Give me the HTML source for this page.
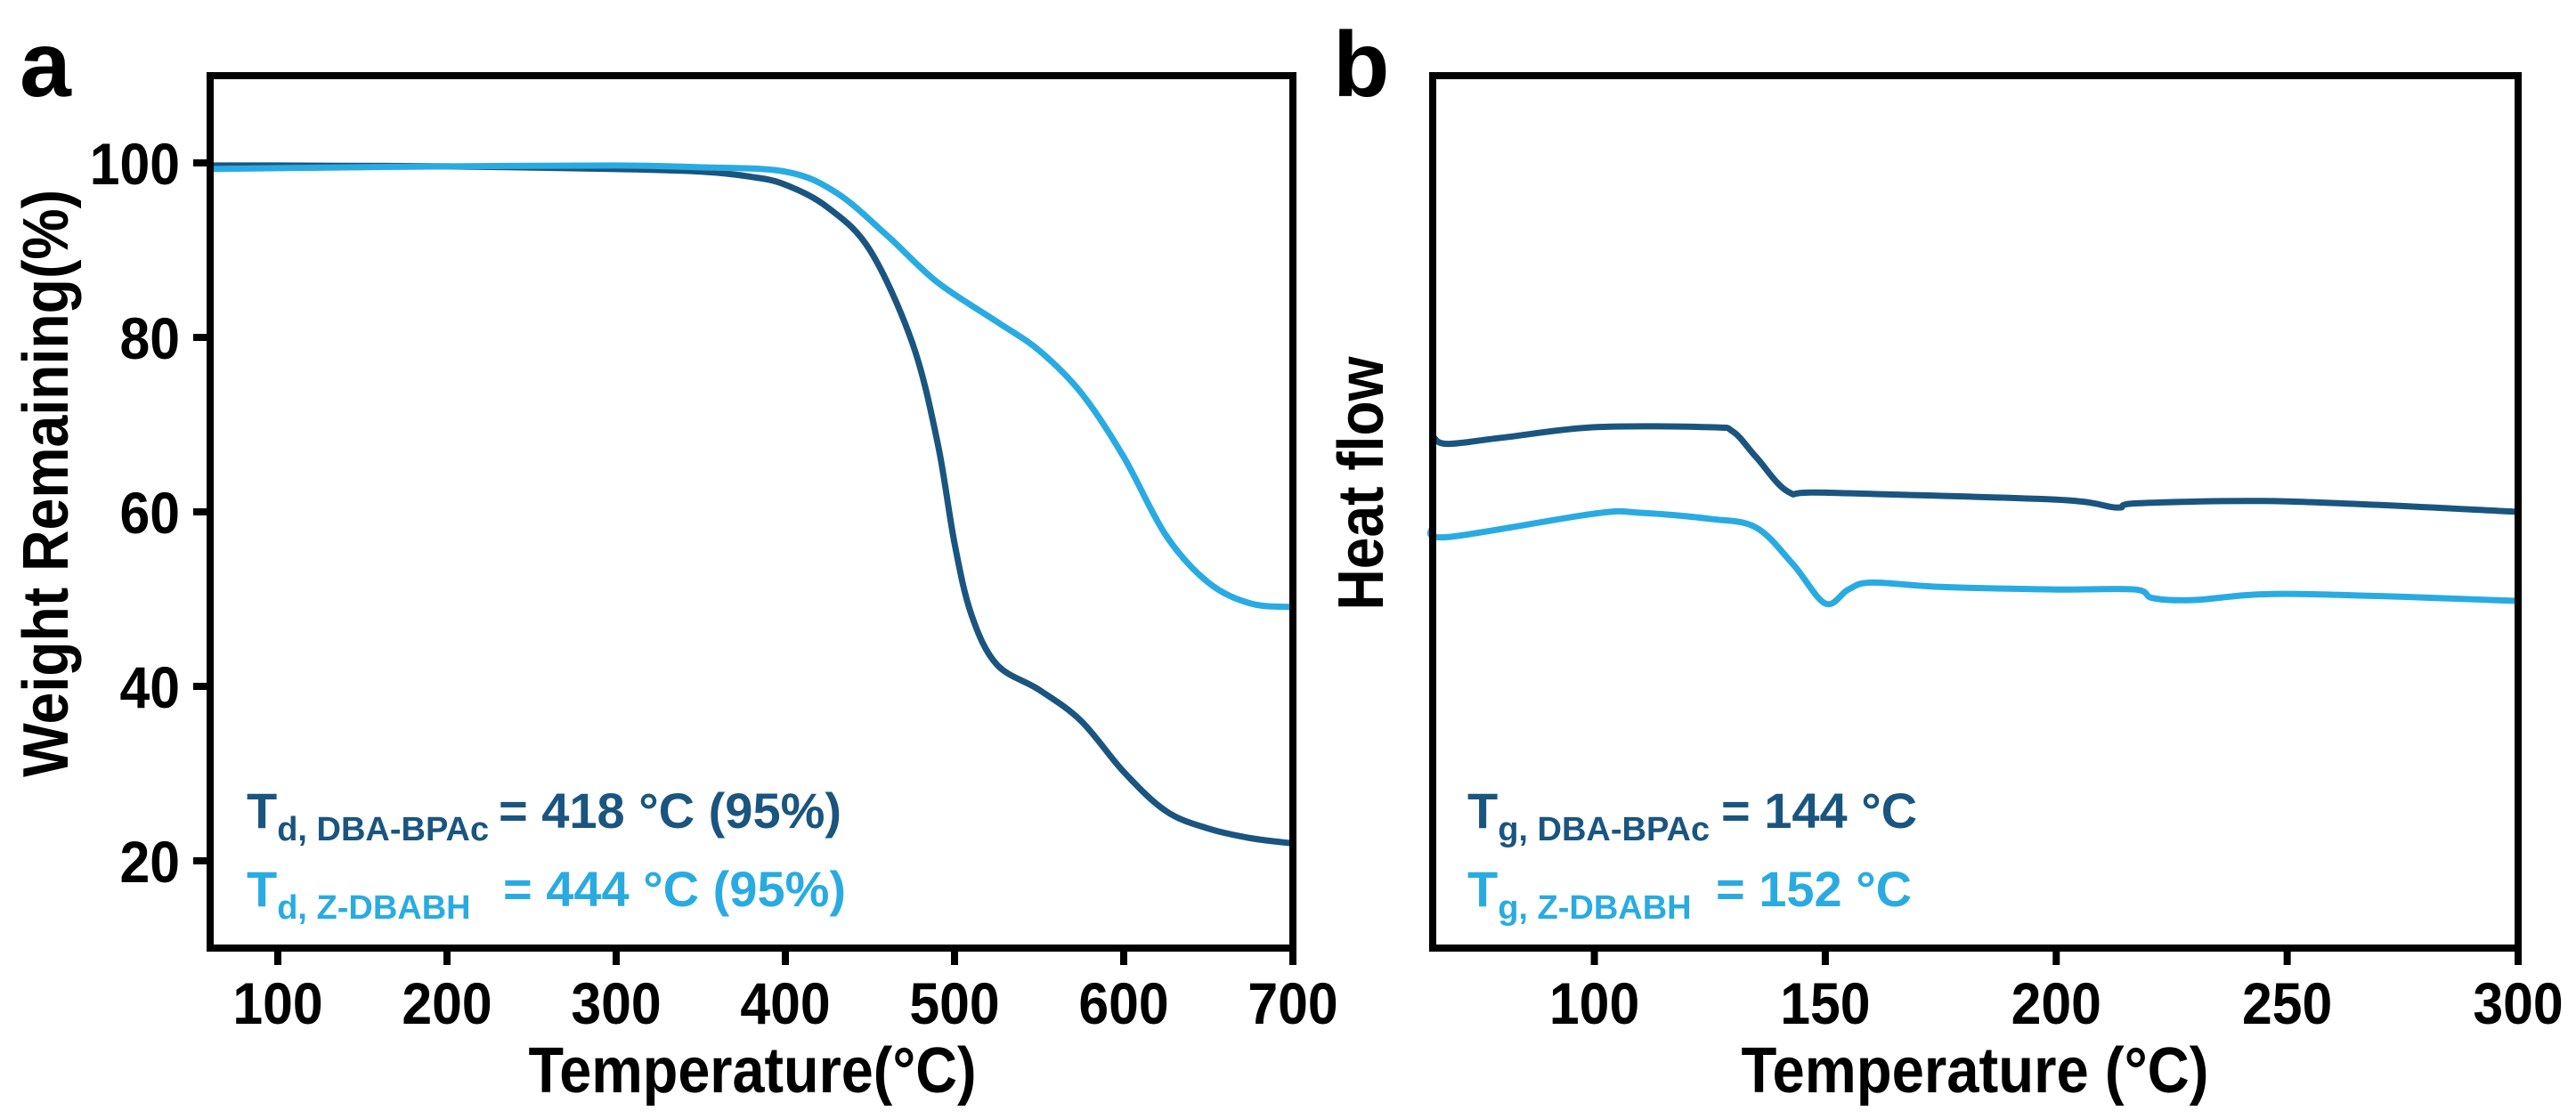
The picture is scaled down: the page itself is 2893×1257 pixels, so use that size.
<!DOCTYPE html>
<html><head><meta charset="utf-8">
<style>
html,body{margin:0;padding:0;background:#fff;}
svg{display:block;font-family:"Liberation Sans",Arial,sans-serif;font-weight:bold;}
</style></head>
<body>
<svg id="fig" width="2893" height="1257" viewBox="0 0 2893 1257" xmlns="http://www.w3.org/2000/svg">
  <text x="22" y="108" font-size="104">a</text>
  <text x="1497" y="108" font-size="104">b</text>
  <g id="pa"></g>
  <g id="pb"></g>
</svg>
<script>
// Panel a (TGA) data
const tgaXTicks = [100, 200, 300, 400, 500, 600, 700];
const tgaYTicks = [20, 40, 60, 80, 100];
const tgaDarkT = [60, 100, 200, 300, 350, 380, 400, 425, 450, 475, 490, 500, 510, 525, 550, 575, 600, 625, 650, 675, 700];
const tgaDarkW = [99.7, 99.7, 99.6, 99.3, 99.0, 98.4, 97.5, 94.9, 90.0, 79.4, 67.9, 56.4, 48.2, 42.5, 39.6, 36.0, 30.2, 25.7, 23.7, 22.6, 22.0];
const tgaLightT = [60, 100, 200, 300, 350, 400, 430, 460, 490, 525, 550, 575, 600, 625, 650, 675, 700];
const tgaLightW = [99.3, 99.4, 99.6, 99.7, 99.5, 99.0, 96.6, 91.7, 86.3, 81.8, 78.5, 73.6, 66.3, 57.3, 51.9, 49.5, 49.1];
// Panel b (DSC) data (arbitrary heat-flow units)
const dscXTicks = [100, 150, 200, 250, 300];
const dscDarkT = [65, 68, 80, 100, 125, 130, 135, 142, 150, 200, 213, 218, 250, 300];
const dscDarkH = [58.7, 57.8, 58.5, 59.7, 59.7, 59.2, 56.3, 52.3, 52.2, 51.4, 50.5, 51.0, 51.2, 50.0];
const dscLightT = [65, 68, 100, 110, 125, 135, 143, 150, 155, 160, 175, 200, 217, 221, 230, 250, 300];
const dscLightH = [48.4, 47.1, 49.8, 49.9, 49.2, 48.2, 44.0, 39.5, 41.1, 41.9, 41.4, 41.1, 41.1, 40.1, 39.9, 40.6, 39.8];

const NS = "http://www.w3.org/2000/svg";
const DARK = "#1a5580", LIGHT = "#29abe2";
const PLOT_TOP = 85, PLOT_BOT = 1065;
function mk(tag, attrs, parent, txt) {
  const e = document.createElementNS(NS, tag);
  for (const k in attrs) e.setAttribute(k, attrs[k]);
  if (txt !== undefined) e.textContent = txt;
  parent.appendChild(e);
  return e;
}
function lineThrough(g, xs, ys, sx, sy, color, name) {
  const P = xs.map((x, i) => [sx(x), sy(ys[i])]);
  let d = "M" + P[0][0].toFixed(1) + "," + P[0][1].toFixed(1);
  for (let i = 0; i < P.length - 1; i++) {
    const p0 = P[i - 1] || P[i], p1 = P[i], p2 = P[i + 1], p3 = P[i + 2] || P[i + 1];
    const c1x = p1[0] + (p2[0] - p0[0]) / 6, c1y = p1[1] + (p2[1] - p0[1]) / 6;
    const c2x = p2[0] - (p3[0] - p1[0]) / 6, c2y = p2[1] - (p3[1] - p1[1]) / 6;
    d += "C" + c1x.toFixed(1) + "," + c1y.toFixed(1) + " " + c2x.toFixed(1) + "," + c2y.toFixed(1) + " " + p2[0].toFixed(1) + "," + p2[1].toFixed(1);
  }
  const p = mk("path", {d: d, fill: "none", stroke: color, "stroke-width": 7, "stroke-linejoin": "round", "stroke-linecap": "round"}, g);
  
  
}
function annot(g, x, y, color, sub, eqX, eqText, name) {
  const t = mk("text", {x: x, y: y, "font-size": 56, fill: color}, g, "T");
  mk("tspan", {"font-size": 38, dy: 14}, t, sub);
  mk("tspan", {x: eqX, dy: -14}, t, eqText);
  
  
}
function tickLabel(g, x, y, anchor, txt, name) {
  const lb = mk("text", {x: 0, y: 0, "font-size": 66, "text-anchor": anchor, transform: "translate(" + x + "," + y + ") scale(0.92,1)"}, g, txt);
  
  
}

// ---------- Panel a ----------
(function () {
  const g = document.getElementById("pa");
  const L = 236, R = 1452, x0 = 60, x1 = 700, y0 = 10, y1 = 110;
  const sx = v => L + (v - x0) / (x1 - x0) * (R - L);
  const sy = v => PLOT_BOT - (v - y0) / (y1 - y0) * (PLOT_BOT - PLOT_TOP);
  lineThrough(g, tgaDarkT, tgaDarkW, sx, sy, DARK, "series-dba-bpac");
  lineThrough(g, tgaLightT, tgaLightW, sx, sy, LIGHT, "series-z-dbabh");
  const fr = mk("rect", {x: L, y: PLOT_TOP, width: R - L, height: PLOT_BOT - PLOT_TOP, fill: "none", stroke: "#000", "stroke-width": 8}, g);
  
  
  tgaXTicks.forEach(t => {
    const tk = mk("line", {x1: sx(t), x2: sx(t), y1: PLOT_BOT, y2: PLOT_BOT + 19, stroke: "#000", "stroke-width": 8}, g);
    
    
    tickLabel(g, sx(t), 1150, "middle", t, 'x-tick-label');
  });
  tgaYTicks.forEach(t => {
    const tk = mk("line", {x1: L - 19, x2: L, y1: sy(t), y2: sy(t), stroke: "#000", "stroke-width": 8}, g);
    
    
    tickLabel(g, 202, sy(t) + 24, "end", t, 'y-tick-label');
  });
  const xt = mk("text", {x: 845, y: 1227, "font-size": 72, "text-anchor": "middle", textLength: 503, lengthAdjust: "spacingAndGlyphs"}, g, "Temperature(°C)");
  
  
  const yt = mk("text", {x: 0, y: 0, "font-size": 72, "text-anchor": "middle", textLength: 660, lengthAdjust: "spacingAndGlyphs", transform: "translate(76,543) rotate(-90)"}, g, "Weight Remaining(%)");
  
  
  annot(g, 277, 930, DARK, "d, DBA-BPAc", 560, "= 418 °C (95%)", "annotation-td-dba-bpac");
  annot(g, 277, 1018, LIGHT, "d, Z-DBABH", 565, "= 444 °C (95%)", "annotation-td-z-dbabh");
})();

// ---------- Panel b ----------
(function () {
  const g = document.getElementById("pb");
  const L = 1609, R = 2828, x0 = 65, x1 = 300, y0 = 0, y1 = 100;
  const sx = v => L + (v - x0) / (x1 - x0) * (R - L);
  const sy = v => PLOT_BOT - (v - y0) / (y1 - y0) * (PLOT_BOT - PLOT_TOP);
  lineThrough(g, dscDarkT, dscDarkH, sx, sy, DARK, "series-dba-bpac-dsc");
  lineThrough(g, dscLightT, dscLightH, sx, sy, LIGHT, "series-z-dbabh-dsc");
  const fr = mk("rect", {x: L, y: PLOT_TOP, width: R - L, height: PLOT_BOT - PLOT_TOP, fill: "none", stroke: "#000", "stroke-width": 8}, g);
  
  
  dscXTicks.forEach(t => {
    const tk = mk("line", {x1: sx(t), x2: sx(t), y1: PLOT_BOT, y2: PLOT_BOT + 19, stroke: "#000", "stroke-width": 8}, g);
    
    
    tickLabel(g, sx(t), 1150, "middle", t, 'x-tick-label');
  });
  const xt = mk("text", {x: 2218, y: 1227, "font-size": 72, "text-anchor": "middle", textLength: 525, lengthAdjust: "spacingAndGlyphs"}, g, "Temperature (°C)");
  
  
  const yt = mk("text", {x: 0, y: 0, "font-size": 72, "text-anchor": "middle", textLength: 285, lengthAdjust: "spacingAndGlyphs", transform: "translate(1553,543) rotate(-90)"}, g, "Heat flow");
  
  
  annot(g, 1648, 930, DARK, "g, DBA-BPAc", 1933, "= 144 °C", "annotation-tg-dba-bpac");
  annot(g, 1648, 1018, LIGHT, "g, Z-DBABH", 1927, "= 152 °C", "annotation-tg-z-dbabh");
})();
</script>
</body></html>
